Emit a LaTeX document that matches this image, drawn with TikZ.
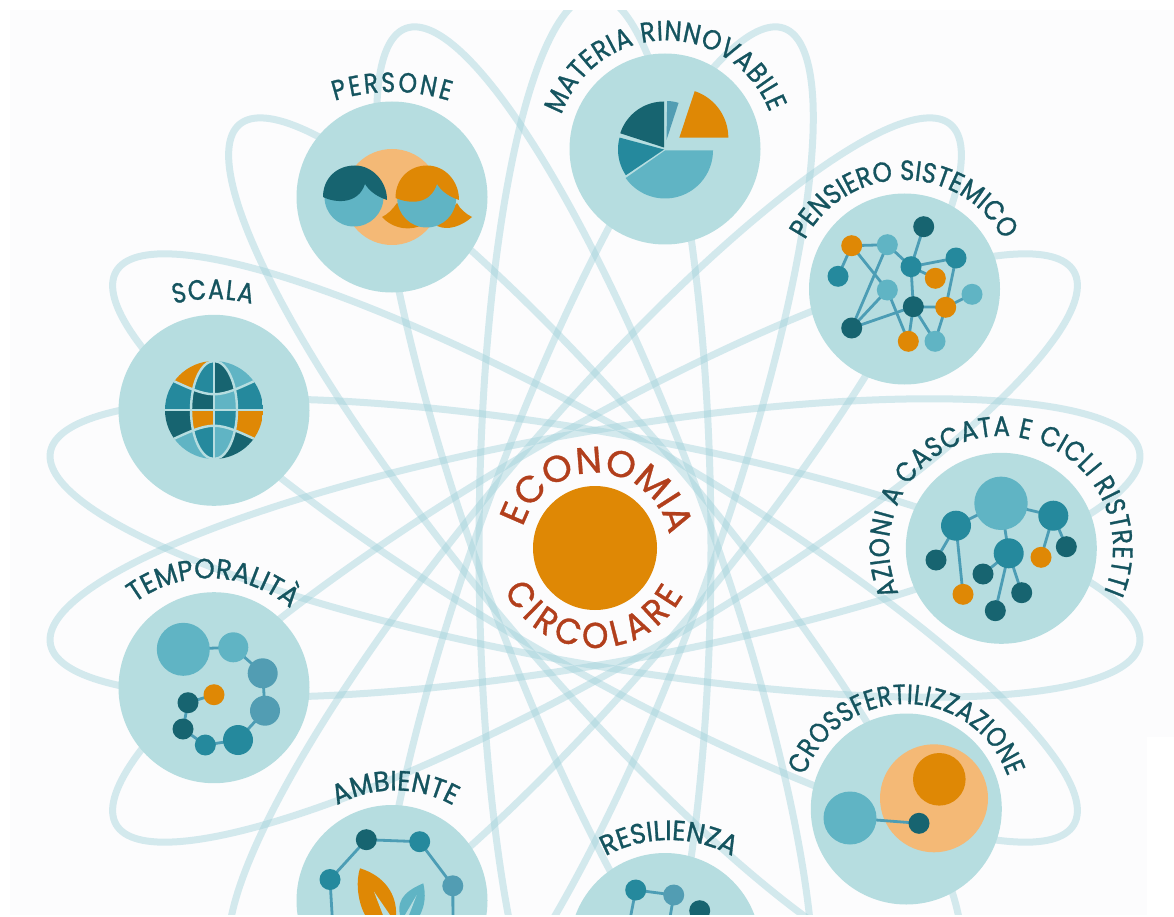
\documentclass[tikz,border=0pt]{standalone}
\usepackage{fontspec}
\usetikzlibrary{decorations.text}
\newfontfamily\lblfont[FakeBold=1.0,FakeStretch=0.93]{Poppins}
\newfontfamily\lblmid[FakeBold=1.0,FakeStretch=0.875]{Poppins}
\newfontfamily\lblnarrow[FakeBold=1.0,FakeStretch=0.84]{Poppins}
\newfontfamily\corefont[FakeBold=0.8,FakeStretch=1.02]{Poppins}
\definecolor{circ}{HTML}{B6DDE0}
\definecolor{lightc}{HTML}{60B4C4}
\definecolor{midc}{HTML}{25899D}
\definecolor{darkc}{HTML}{176470}
\definecolor{grayc}{HTML}{529DB3}
\definecolor{orangec}{HTML}{DF8805}
\definecolor{peach}{HTML}{F4B976}
\definecolor{linkc}{HTML}{4C9DB5}
\definecolor{orbit}{HTML}{9FD0DA}
\definecolor{txtc}{HTML}{15545F}
\definecolor{redc}{HTML}{B23F1C}
\definecolor{bgc}{HTML}{FCFCFD}
\pgfdeclarelayer{bgl}
\pgfdeclarelayer{links}
\pgfsetlayers{bgl,links,main}
\tikzset{
  orbitline/.style={draw=orbit,line width=7pt,opacity=.43},
  bigdisc/.style={circle,fill=circ,inner sep=0pt,outer sep=0pt,minimum size=191pt},
  linkline/.style={draw=linkc,line width=2.8pt},
  gridline/.style={draw=circ,line width=2.4pt}
}
% dot node: name, x, y, radius, colour
\newcommand\nd[5]{\node[circle,fill=#5,inner sep=0pt,outer sep=0pt,minimum size={2*#4 pt}] (#1) at (#2,#3) {};}
% text on an arc: cx, cy, r, start, end, size, colour, text, font
\newcommand\arctext[9]{\path[decorate,decoration={text along path,text align={fit to path},
   text={|#9\fontsize{#6}{#6}\selectfont\color{#7}|#8}}]
   plot[domain=#4:#5,samples=90] ({#1+#3*cos(\x)},{#2-#3*sin(\x)});}
% wedge: cx, cy, r, a, b, colour
\newcommand\pie[6]{\fill[#6] (#1,#2) -- plot[domain=#4:#5,samples=40] ({#1+#3*cos(\x)},{#2-#3*sin(\x)}) -- cycle;}
% globe row
\newcommand\globerow[5]{\begin{scope}\clip #1;
  \fill[#2] (165,361) rectangle (214,459); \fill[#5] (214,361) rectangle (263,459);
  \begin{scope}\clip (214,410) ellipse [x radius=23,y radius=49];
  \fill[#3] (165,361) rectangle (214,459); \fill[#4] (214,361) rectangle (263,459);
  \end{scope}\end{scope}}
\begin{document}
\begin{tikzpicture}[x=1pt,y=-1pt]
\useasboundingbox (0,0) rectangle (1174,917);
\begin{pgfonlayer}{bgl}
\fill[white] (0,0) rectangle (1174,917);
\fill[bgc] (10,10) rectangle (1174,915);
\foreach \th in {10,30,...,170}{
  \draw[orbitline] plot[domain=0:360,samples=241]
   ({595+553*cos(\x)*cos(\th)-116*sin(\x)*sin(\th)},{548-553*cos(\x)*sin(\th)-116*sin(\x)*cos(\th)}) -- cycle;
}
\node[bigdisc] (persone) at (392,197) {};
\node[bigdisc] (materia) at (665,149) {};
\node[bigdisc] (pensiero) at (904.5,289) {};
\node[bigdisc] (azioni) at (1001.3,548.3) {};
\node[bigdisc] (cross) at (906.3,809) {};
\node[bigdisc] (resilienza) at (665,948.5) {};
\node[bigdisc] (ambiente) at (392,900.5) {};
\node[bigdisc] (temporalita) at (214,687.7) {};
\node[bigdisc] (scala) at (214,410.3) {};
\nd{crosspeach}{934}{798.3}{54}{peach}
\nd{perspeach}{392}{197}{48}{peach}
\end{pgfonlayer}

% centre
\nd{core}{595}{548}{62}{orangec}
\arctext{595}{548}{75}{164}{15}{37}{redc}{ECONOMIA}{\corefont}
\arctext{595}{548}{100}{205}{332}{36}{redc}{CIRCOLARE}{\lblfont}

% labels
\arctext{392}{282}{190}{107.5}{72.5}{28}{txtc}{PERSONE}{\lblnarrow}
\arctext{666}{151}{110.6}{161}{20.5}{28}{txtc}{MATERIA RINNOVABILE}{\lblmid}
\arctext{904}{291.7}{111.7}{152.5}{27.5}{28}{txtc}{PENSIERO SISTEMICO}{\lblmid}
\arctext{1001}{548}{112}{204}{-23}{28}{txtc}{AZIONI A CASCATA E CICLI RISTRETTI}{\lblmid}
\arctext{906}{811.5}{107.5}{160.5}{19}{28}{txtc}{CROSSFERTILIZZAZIONE}{\lblnarrow}
\arctext{669}{972}{132}{118.7}{61.3}{28}{txtc}{RESILIENZA}{\lblfont}
\arctext{395}{910}{119.6}{119}{61}{28}{txtc}{AMBIENTE}{\lblfont}
\arctext{209}{703}{124.7}{126.5}{51.7}{28}{txtc}{TEMPORALITÀ}{\lblfont}
\arctext{213}{454}{155}{104.5}{75.5}{28}{txtc}{SCALA}{\lblnarrow}

% persone icon
\fill[orangec] (397,203) .. controls (392,210) and (388,214) .. (382,217) .. controls (390,226) and (405,232) .. (420,226) -- cycle;
\fill[orangec] (437,226) .. controls (448,231) and (462,226) .. (472,217) .. controls (466,214) and (460,209) .. (457,203) -- cycle;
\nd{faceL}{354}{197}{29.5}{lightc}
\nd{faceR}{426.7}{198}{29.5}{lightc}
\fill[darkc] (323,197) .. controls (323,178) and (337,165.5) .. (355,165.5) .. controls (372,165.5) and (387,181) .. (387,200) .. controls (378,197) and (370,192) .. (365,184) .. controls (358,205) and (335,203) .. (323,197) -- cycle;
\fill[orangec] (395.5,198) .. controls (395.5,178) and (410,165.5) .. (427,165.5) .. controls (445,165.5) and (459,181) .. (459,200) .. controls (450,197) and (442,192) .. (437,184) .. controls (430,205) and (410,204) .. (395.5,198) -- cycle;

% materia pie
\pie{665}{150.5}{48}{0}{-145}{lightc}
\pie{664}{149.5}{46}{165}{214}{midc}
\pie{664}{147.5}{46}{162}{90}{darkc}
\pie{666.5}{140}{39}{89}{72}{grayc}
\pie{679.3}{137.7}{49}{0}{71.7}{orangec}

% pensiero network
\nd{na}{851.7}{245.7}{10.5}{orangec}
\nd{nb}{887.3}{244.7}{10.5}{lightc}
\nd{nc}{923.7}{226.7}{10.5}{darkc}
\nd{nd}{911}{266.7}{10.5}{midc}
\nd{ne}{956}{258}{10.5}{midc}
\nd{nf}{935.3}{278.3}{10.5}{orangec}
\nd{ng}{838}{276.3}{10.5}{midc}
\nd{nh}{887.3}{290}{10.5}{lightc}
\nd{ni}{972}{294.3}{10.5}{lightc}
\nd{nj}{945.7}{307.3}{10.5}{orangec}
\nd{nk}{913.3}{306.7}{10.5}{darkc}
\nd{nl}{851.7}{328}{10.5}{darkc}
\nd{nm}{908.3}{341.3}{10.5}{orangec}
\nd{nn}{935}{341.3}{10.5}{lightc}
% azioni network
\nd{aA}{1001}{503.3}{26.7}{lightc}
\nd{aB}{956}{525.7}{15}{midc}
\nd{aC}{1053.3}{515.7}{15}{midc}
\nd{aD}{1008.7}{553.3}{15}{midc}
\nd{aE}{936}{560}{10.5}{darkc}
\nd{aF}{963}{594.3}{10.5}{orangec}
\nd{aG}{983}{574}{10.5}{darkc}
\nd{aH}{995.3}{610.7}{10.5}{darkc}
\nd{aI}{1021.7}{592.7}{10.5}{darkc}
\nd{aJ}{1041}{557.3}{10.5}{orangec}
\nd{aK}{1066.3}{546.7}{10.5}{darkc}
% temporalita chain
\nd{tA}{183.3}{649.3}{26.5}{lightc}
\nd{tB}{233.3}{647.3}{15}{lightc}
\nd{tC}{262.7}{673.3}{15}{grayc}
\nd{tD}{265}{710.7}{15}{grayc}
\nd{tE}{238}{740}{15}{midc}
\nd{tF}{205.3}{745}{10.5}{midc}
\nd{tG}{183}{729}{10.5}{darkc}
\nd{tH}{188}{702.7}{10.5}{darkc}
\nd{tI}{214}{694.7}{10.5}{orangec}
% cross
\nd{cO}{939.3}{779.3}{26.3}{orangec}
\nd{cL}{850}{818}{26.5}{lightc}
\nd{cD}{919}{823.3}{10.5}{darkc}
% ambiente
\nd{bA}{366.3}{839.7}{10.5}{darkc}
\nd{bB}{419.7}{841.7}{10.5}{midc}
\nd{bC}{330}{879.5}{10.5}{midc}
\nd{bD}{452.8}{885.8}{10.5}{grayc}
\coordinate (bCend) at (333,930);
\coordinate (bDend) at (453,930);
\fill[orangec] (360,868.3) .. controls (356,880) and (357,900) .. (365,915) -- (396,915) .. controls (397,895) and (385,876) .. (360,868.3) -- cycle;
\fill[circ] (374,891.7) -- (390,915) -- (383,915) -- cycle;
\fill[lightc] (423.3,883.3) .. controls (410,889) and (396,897) .. (400,915) -- (420,915) .. controls (425,905) and (426,895) .. (423.3,883.3) -- cycle;
\fill[circ] (416.7,895) -- (409,915) -- (405,915) -- cycle;
% resilienza
\nd{rA}{635.7}{890}{10.5}{midc}
\nd{rB}{673.7}{895}{10.5}{grayc}
\nd{rC}{699.7}{910.7}{10.5}{darkc}
\coordinate (rAend) at (628,930);
\coordinate (rBend) at (668,930);

\begin{pgfonlayer}{links}
\foreach \a/\b in {na/nb,na/ng,na/nh,nh/nm,nb/nd,nb/nl,nc/nd,nd/ne,nd/nf,nd/nk,ne/nj,nj/nn,nj/ni,nk/nj,nk/nl,nk/nm,nk/nn,nh/nl,
   aA/aB,aA/aC,aA/aD,aB/aE,aB/aF,aD/aG,aD/aH,aD/aI,aC/aJ,aC/aK,
   tA/tB,tB/tC,tC/tD,tD/tE,tE/tF,tF/tG,tG/tH,tH/tI,
   cL/cD,bA/bB,bA/bC,bB/bD,bC/bCend,bD/bDend,rA/rB,rA/rAend,rB/rBend}
  \draw[linkline] (\a.center) -- (\b.center);
\end{pgfonlayer}

% globe
\begin{scope}
\clip (214,410) circle [radius=49];
\globerow{(165,355) -- (263,355) -- (263,377) .. controls (214,400) .. (165,377) -- cycle}{orangec}{midc}{darkc}{lightc}
\globerow{(165,377) .. controls (214,400) .. (263,377) -- (263,410) -- (165,410) -- cycle}{midc}{darkc}{lightc}{midc}
\globerow{(165,410) -- (263,410) -- (263,443) .. controls (214,420) .. (165,443) -- cycle}{darkc}{orangec}{midc}{orangec}
\globerow{(165,443) .. controls (214,420) .. (263,443) -- (263,465) -- (165,465) -- cycle}{lightc}{midc}{lightc}{darkc}
\draw[gridline] (165,377) .. controls (214,400) .. (263,377);
\draw[gridline] (165,443) .. controls (214,420) .. (263,443);
\draw[gridline] (160,410) -- (268,410);
\draw[gridline] (214,355) -- (214,465);
\draw[gridline] (214,410) ellipse [x radius=23,y radius=49];
\end{scope}

% page margins
\fill[white] (0,0) rectangle (1174,10);
\fill[white] (0,915) rectangle (1174,917);
\fill[white] (1147,737) rectangle (1174,915);
\end{tikzpicture}
\end{document}
